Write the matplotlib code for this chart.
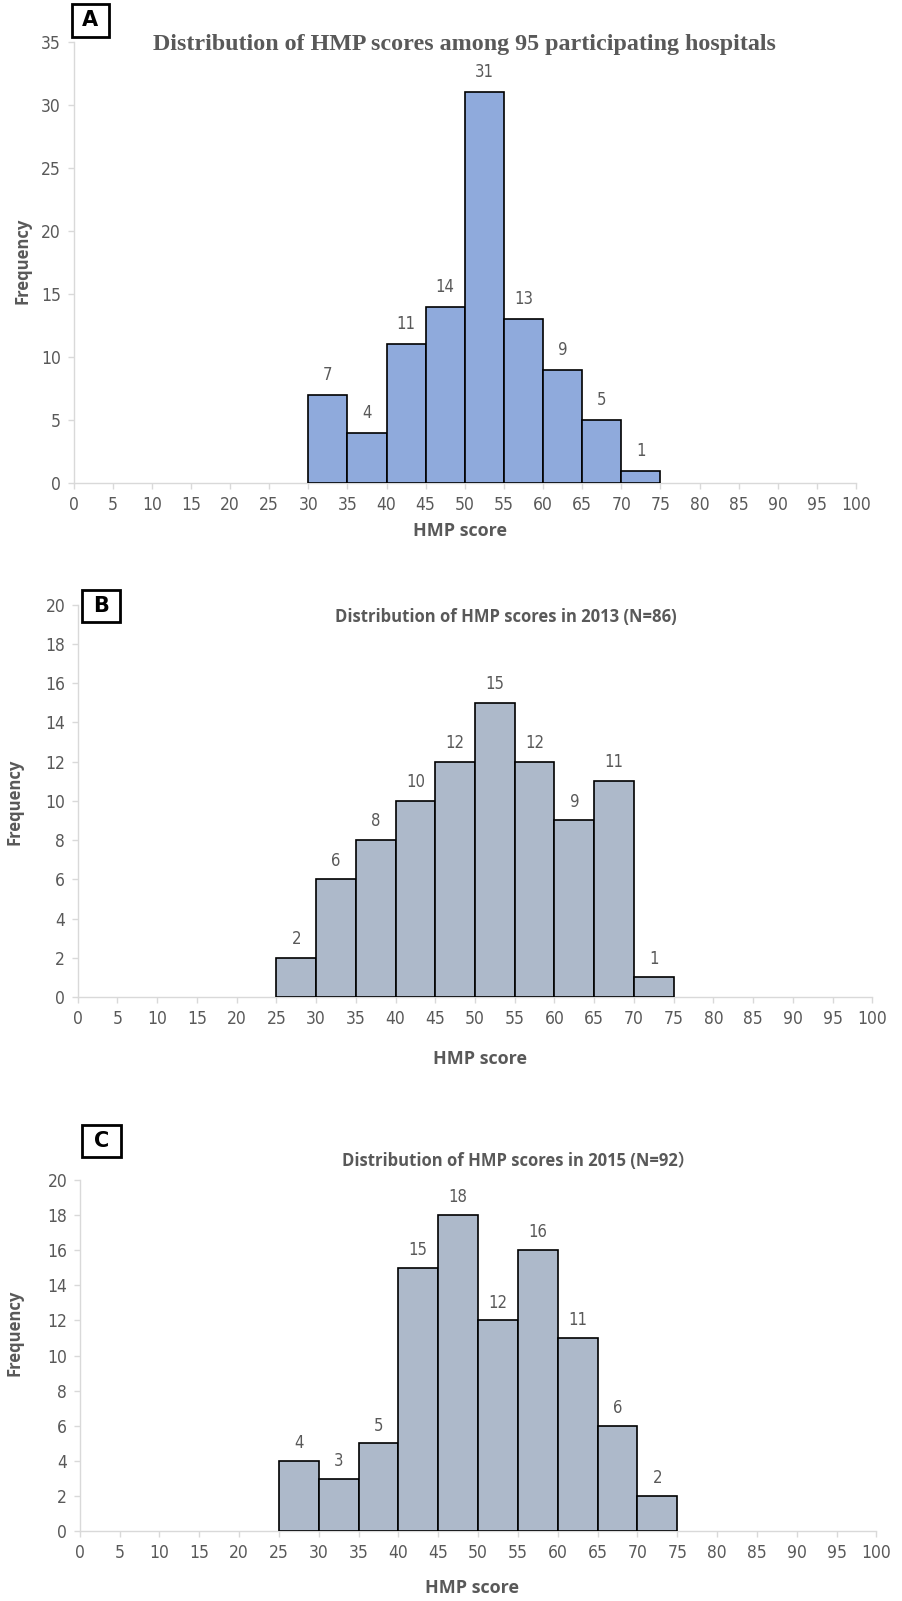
import numpy as np
import matplotlib
matplotlib.use("Agg")
import matplotlib.pyplot as plt
from matplotlib.patches import Rectangle

# ---- data ----
bin_edges_a = [30, 35, 40, 45, 50, 55, 60, 65, 70]
counts_a = [7, 4, 11, 14, 31, 13, 9, 5, 1]

bin_edges_b = [25, 30, 35, 40, 45, 50, 55, 60, 65, 70]
counts_b = [2, 6, 8, 10, 12, 15, 12, 9, 11, 1]

bin_edges_c = [25, 30, 35, 40, 45, 50, 55, 60, 65, 70]
counts_c = [4, 3, 5, 15, 18, 12, 16, 11, 6, 2]

title_a = "Distribution of HMP scores among 95 participating hospitals"
title_b = "Distribution of HMP scores in 2013 (N=86)"
title_c = "Distribution of HMP scores in 2015 (N=92\uff09"
bin_width = 5
x_ticks = list(range(0, 101, 5))

W, H = 902, 1601
S = 902 / 883  # reference measured on 883-wide preview
GREY = "#595959"
AXIS = "#d9d9d9"
NARROW = dict(family="DejaVu Sans", stretch="condensed")


def fx(x):
    return x * S / W


def fy(y):
    return 1 - y * S / H


fig = plt.figure(figsize=(W / 100, H / 100), dpi=100)


def panel(rect, edges, counts, ymax, ystep, color, letter, box, title, title_xy,
          title_font, ylab_xy, xlab_xy):
    ax = fig.add_axes(rect)
    ax.bar(edges, counts, width=bin_width, align="edge", color=color,
           edgecolor="black", linewidth=1.2, zorder=3)
    for e, c in zip(edges, counts):
        ax.text(e + bin_width / 2, c + ymax * 0.025, str(c), ha="center",
                va="bottom", color=GREY, fontsize=12, **NARROW)
    ax.set_xlim(0, 100)
    ax.set_ylim(0, ymax)
    ax.set_xticks(x_ticks)
    ax.set_yticks(np.arange(0, ymax + 1, ystep))
    for s in ("top", "right"):
        ax.spines[s].set_visible(False)
    for s in ("left", "bottom"):
        ax.spines[s].set_color(AXIS)
        ax.spines[s].set_linewidth(1.0)
    ax.tick_params(colors=AXIS, labelcolor=GREY, labelsize=12.5, length=4,
                   width=1.0, pad=5)
    for lab in ax.get_xticklabels() + ax.get_yticklabels():
        lab.set_family(NARROW["family"])
        lab.set_stretch(NARROW["stretch"])
    # panel letter box
    x0, y0, x1, y1 = box
    fig.patches.append(Rectangle((fx(x0), fy(y1)), fx(x1) - fx(x0),
                                 fy(y0) - fy(y1), transform=fig.transFigure,
                                 fill=False, edgecolor="black", linewidth=2.0))
    fig.text((fx(x0) + fx(x1)) / 2, (fy(y0) + fy(y1)) / 2, letter,
             ha="center", va="center", fontsize=15, fontweight="bold",
             family="DejaVu Sans")
    fig.text(fx(title_xy[0]), fy(title_xy[1]), title, ha="center",
             va="center", color=GREY, fontweight="bold", **title_font)
    fig.text(fx(ylab_xy[0]), fy(ylab_xy[1]), "Frequency", rotation=90,
             ha="center", va="center", color=GREY, fontweight="bold",
             fontsize=12, family="Open Sans")
    fig.text(fx(xlab_xy[0]), fy(xlab_xy[1]), "HMP score", ha="center",
             va="center", color=GREY, fontweight="bold", fontsize=13,
             family="Open Sans")
    return ax


def rect_px(left, right, top, bottom):
    return [fx(left), fy(bottom), fx(right) - fx(left), fy(top) - fy(bottom)]


panel(rect_px(72, 838, 41, 473), bin_edges_a, counts_a, 35, 5, "#8faadc",
      "A", (70, 4, 107, 36), title_a, (455, 44),
      dict(fontsize=17.3, family="Liberation Serif"), (22, 255), (450, 520))

panel(rect_px(76, 854, 592, 976), bin_edges_b, counts_b, 20, 2, "#adb9ca",
      "B", (80, 578, 117, 609), title_b, (495, 604),
      dict(fontsize=12, family="Open Sans"), (14, 785), (470, 1037))

panel(rect_px(78, 858, 1155, 1499), bin_edges_c, counts_c, 20, 2, "#adb9ca",
      "C", (80, 1101, 118, 1133), title_c, (507, 1137),
      dict(fontsize=12, family=["Open Sans", "Noto Sans CJK SC"]),
      (14, 1305), (462, 1555))

fig.savefig("out.png", dpi=100)
